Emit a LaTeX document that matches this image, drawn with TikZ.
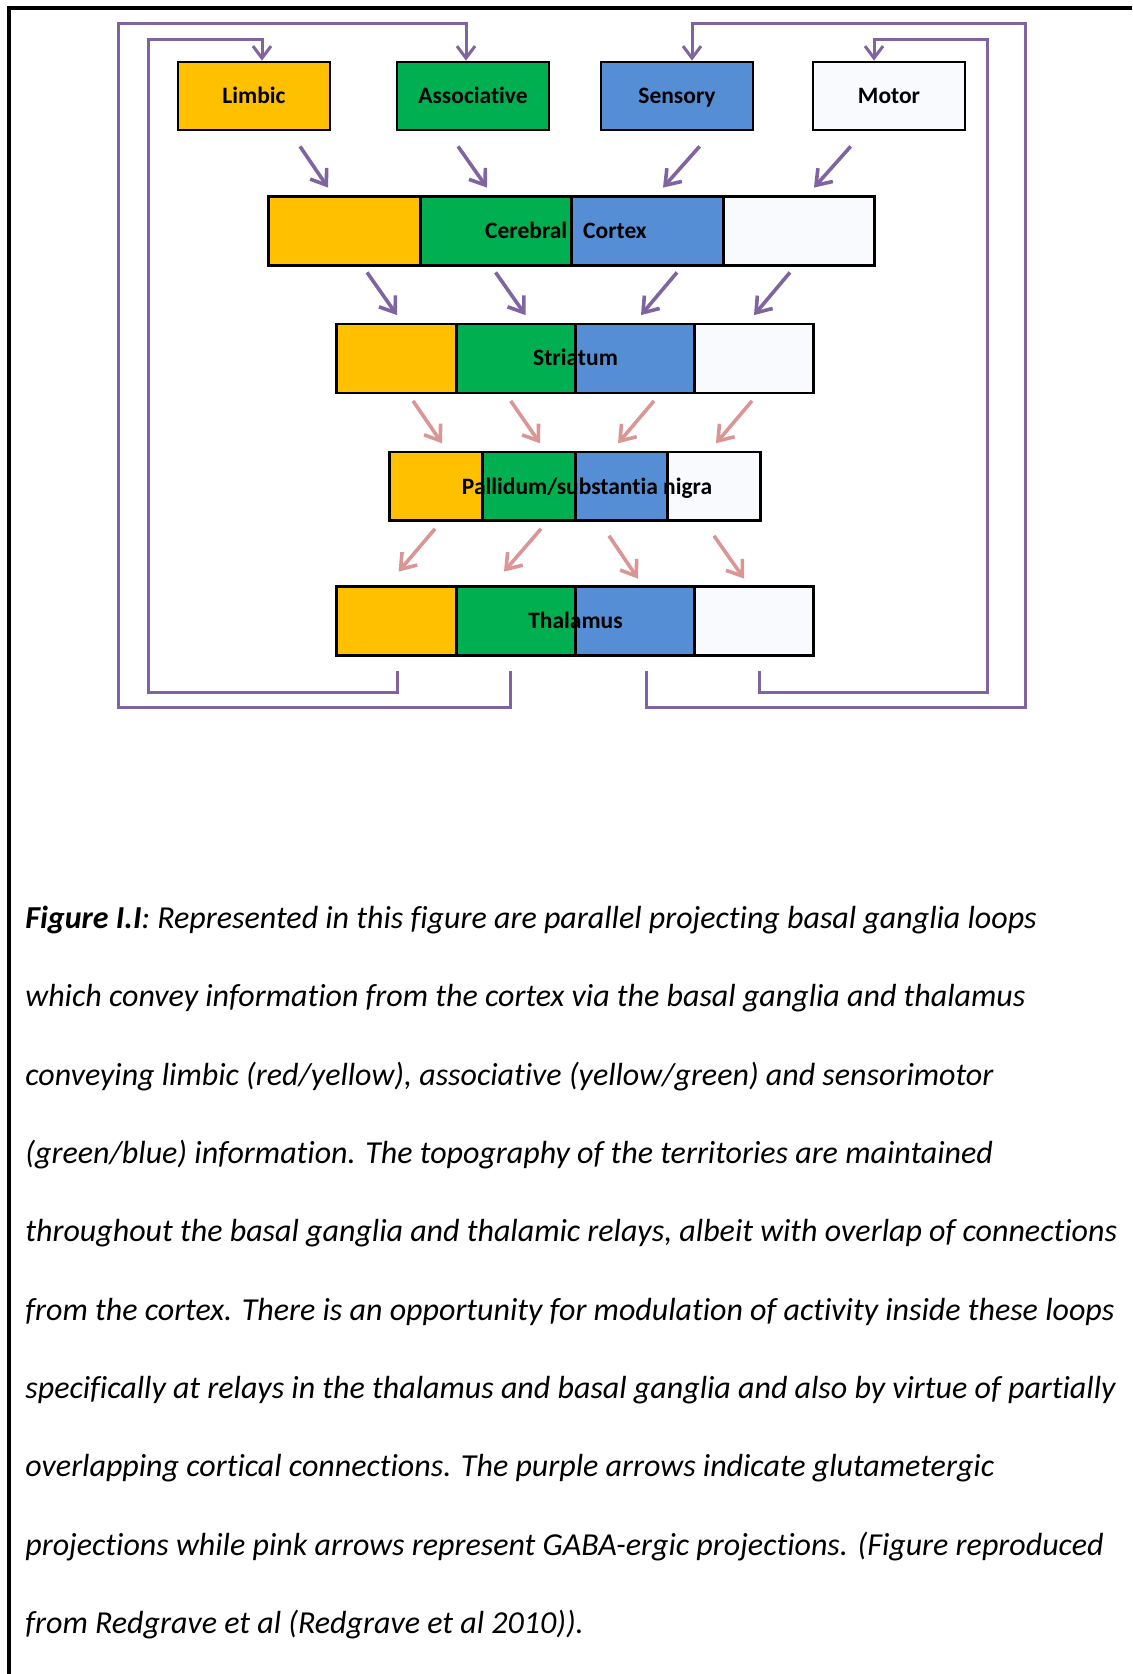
\documentclass[tikz,border=0pt]{standalone}
\usepackage{fontspec}
\setmainfont{Carlito}[Ligatures=NoCommon]
\usetikzlibrary{arrows.meta,calc}

\definecolor{limbicY}{HTML}{FFC000}
\definecolor{assocG}{HTML}{00B050}
\definecolor{sensB}{HTML}{558ED5}
\definecolor{motorW}{HTML}{F8FAFD}
\definecolor{gluP}{HTML}{8064A2}
\definecolor{gabaP}{HTML}{D99694}

\tikzset{
  labelfont/.style={font=\bfseries\fontsize{11.75}{14}\selectfont,
                    text height=9pt, text depth=1.6pt},
  areabox/.style={rectangle, draw=black, line width=1.4pt, minimum width=76pt,
                  minimum height=34pt, inner sep=0pt, labelfont},
  seg/.style={rectangle, draw=none, minimum height=34pt, inner sep=0pt},
  segline/.style={draw=black, line width=1.4pt},
  barlabel/.style={inner sep=0pt, labelfont},
  glu/.style={draw=gluP, line width=1.8pt, -{Straight Barb[length=7pt,width=10pt]}},
  gaba/.style={draw=gabaP, line width=1.8pt, -{Straight Barb[length=7pt,width=10pt]}},
  loopline/.style={draw=gluP, line width=1.5pt, line join=miter,
                   -{Straight Barb[length=6pt,width=9pt]}},
  captionline/.style={anchor=base west, inner sep=0pt,
                      font=\itshape\fontsize{16}{18}\selectfont},
}

\begin{document}
\begin{tikzpicture}[x=0.5pt,y=-0.5pt]
\useasboundingbox (0,0) rectangle (1132,1674);

% page frame (top and left edges)
\draw[line width=2pt] (8.8,1674) -- (8.8,8.5) -- (1132,8.5);

% cortical territories
\node[areabox, fill=limbicY] (limbic)  at (254,96) {Limbic};
\node[areabox, fill=assocG]  (assoc)   at (473,96) {Associative};
\node[areabox, fill=sensB]   (sensory) at (677,96) {Sensory};
\node[areabox, fill=motorW]  (motor)   at (889,96) {Motor};

% segmented bars: fills first
\foreach \col [count=\i] in {limbicY,assocG,sensB,motorW} {
  \node[seg, minimum width=75.6pt, fill=\col] (cx\i) at ({269+151.25*(\i-0.5)},231) {};
  \node[seg, minimum width=59.5pt, fill=\col] (st\i) at ({337+119*(\i-0.5)},358.5) {};
  \node[seg, minimum width=46.3pt, fill=\col] (gp\i) at ({389.6+92.6*(\i-0.5)},486.4) {};
  \node[seg, minimum width=59.5pt, fill=\col] (th\i) at ({337+119*(\i-0.5)},621) {};
}

% bar labels
\node[barlabel] (cxlabel) at (566,231) {Cerebral\hspace{8pt}Cortex};
\node[barlabel] (stlabel) at (575.5,358.5) {Striatum};
\node[barlabel] (gplabel) at (587,487) {Pallidum/substantia nigra};
\node[barlabel] (thlabel) at (575.5,621) {Thalamus};

% bar outlines and dividers on top
\foreach \b in {cx,st,gp,th} {
  \draw[segline] (\b1.north west) rectangle (\b4.south east);
  \foreach \i in {1,2,3} \draw[segline] (\b\i.north east) -- (\b\i.south east);
}

% glutamatergic projections: territories -> cortex
\draw[glu] ($(limbic.south)+(46,15)$)    -- ($(cx1.north)+(-16.6,-9)$);
\draw[glu] ($(assoc.south)+(-15,15)$)    -- ($(cx2.north)+(-8.9,-9)$);
\draw[glu] ($(sensory.south)+(22.6,15)$) -- ($(cx3.north)+(15.9,-9)$);
\draw[glu] ($(motor.south)+(-38.3,15)$)  -- ($(cx4.north)+(15.6,-9)$);

% glutamatergic projections: cortex -> striatum
\draw[glu] ($(cx1.south)+(22.4,7)$) -- ($(st1.north)+(0.5,-9)$);
\draw[glu] ($(cx2.south)+(-0.3,7)$) -- ($(st2.north)+(10,-9)$);
\draw[glu] ($(cx3.south)+(29.9,7)$) -- ($(st3.north)+(6.5,-9)$);
\draw[glu] ($(cx4.south)+(-8.4,7)$) -- ($(st4.north)+(0.5,-9)$);

% GABA-ergic projections: striatum -> pallidum/SN
\draw[gaba] ($(st1.south)+(16.5,8)$) -- ($(gp1.north)+(6.1,-8.7)$);
\draw[gaba] ($(st2.south)+(-4.8,8)$) -- ($(gp2.north)+(11.5,-8.7)$);
\draw[gaba] ($(st3.south)+(19.5,8)$) -- ($(gp3.north)+(-3.1,-8.7)$);
\draw[gaba] ($(st4.south)+(-1.5,8)$) -- ($(gp4.north)+(2.3,-8.7)$);

% GABA-ergic projections: pallidum/SN -> thalamus
\draw[gaba] ($(gp1.south)+(-0.9,8)$)  -- ($(th1.north)+(2.1,-15)$);
\draw[gaba] ($(gp2.south)+(12.5,8)$)  -- ($(th2.north)+(-11.5,-15)$);
\draw[gaba] ($(gp3.south)+(-12.1,15)$) -- ($(th3.north)+(3.5,-8)$);
\draw[gaba] ($(gp4.south)+(0.3,15)$)  -- ($(th4.north)+(-9.5,-8)$);

% thalamo-cortical return loops
\draw[loopline] ($(th1.south)+(0.5,16)$)  -- ++(0,21) -| (148,40)  -| ($(limbic.north)+(8,0)$);
\draw[loopline] ($(th2.south)+(-5,16)$)   -- ++(0,36) -| (118,24)  -| ($(assoc.north)+(-7,0)$);
\draw[loopline] ($(th3.south)+(11.5,16)$) -- ++(0,36) -| (1025,24) -| ($(sensory.north)+(15,0)$);
\draw[loopline] ($(th4.south)+(5.5,16)$)  -- ++(0,21) -| (987,40)  -| ($(motor.north)+(-15,0)$);

% caption
\node[captionline] (cap1)  at (25,928.3)  {\textbf{Figure I.I}: Represented in this figure are parallel projecting basal ganglia loops};
\node[captionline] (cap2)  at (25,1006.6) {which convey information from the cortex via the basal ganglia and thalamus};
\node[captionline] (cap3)  at (25,1085.0) {conveying limbic (red/yellow), associative (yellow/green) and sensorimotor};
\node[captionline] (cap4)  at (25,1163.3) {(green/blue) information. The topography of the territories are maintained};
\node[captionline] (cap5)  at (25,1241.6) {throughout the basal ganglia and thalamic relays, albeit with overlap of connections};
\node[captionline] (cap6)  at (25,1320.0) {from the cortex. There is an opportunity for modulation of activity inside these loops};
\node[captionline] (cap7)  at (25,1398.3) {specifically at relays in the thalamus and basal ganglia and also by virtue of partially};
\node[captionline] (cap8)  at (25,1476.6) {overlapping cortical connections. The purple arrows indicate glutametergic};
\node[captionline] (cap9)  at (25,1555.0) {projections while pink arrows represent GABA-ergic projections. (Figure reproduced};
\node[captionline] (cap10) at (25,1633.3) {from Redgrave et al (Redgrave et al 2010)).};
\end{tikzpicture}
\end{document}
